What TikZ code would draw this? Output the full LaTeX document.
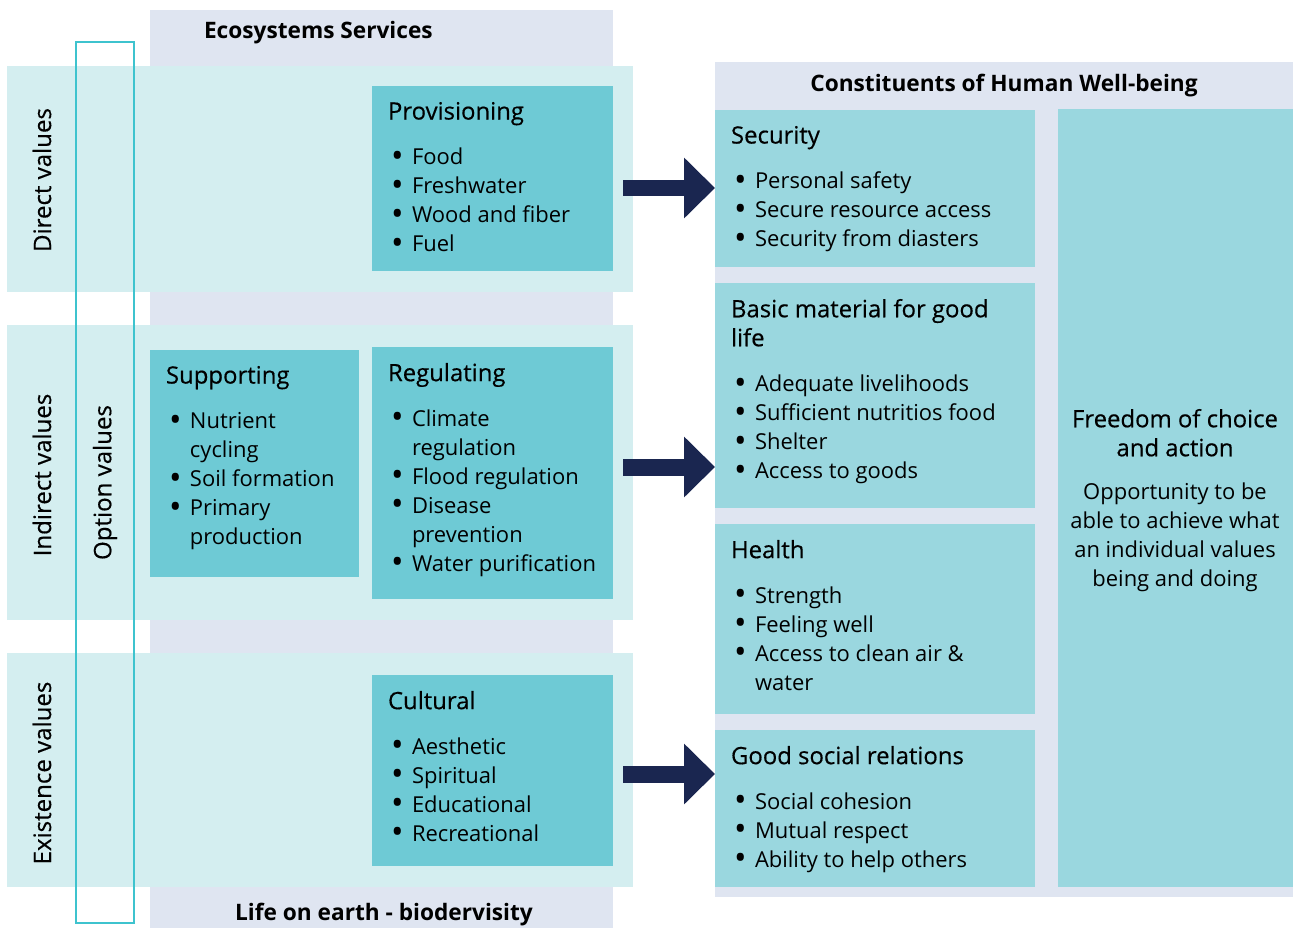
\documentclass[tikz,border=0pt]{standalone}
\usepackage{fontspec}
\setmainfont{Open Sans}
\newfontfamily\semibfont{Open Sans}[FakeBold=0.4]
\usetikzlibrary{fit,arrows.meta,positioning}

\definecolor{colgrey}{HTML}{DFE5F1}
\definecolor{colband}{HTML}{D4EEF0}
\definecolor{colteal}{HTML}{6ECAD5}
\definecolor{colwell}{HTML}{9AD7DF}
\definecolor{colnavy}{HTML}{1A2650}
\definecolor{colopt}{HTML}{3EC3CE}

\newcommand{\bitem}{\hspace*{0.06cm}\makebox[0.42cm][l]{\raisebox{-1.6pt}[0pt][0pt]{\fontsize{19pt}{19pt}\selectfont\textbullet}}}
\newcommand{\bcont}{\hspace*{0.48cm}}
\newcommand{\hd}[1]{{\semibfont\fontsize{13.6pt}{16.5pt}\selectfont #1}}

\begin{document}
\begin{tikzpicture}[x=0.02cm,y=-0.02cm,
  every node/.style={inner sep=0pt,outer sep=0pt},
  colbox/.style={fill=colgrey,fit={#1}},
  band/.style={fill=colband,fit={#1}},
  svcbox/.style={fill=colteal,fit={#1}},
  wellbox/.style={fill=colwell,fit={#1}},
  txt/.style={anchor=north west,align=left,font=\fontsize{12.5pt}{16.5pt}\selectfont},
  hdr/.style={font=\fontsize{12.9pt}{16.5pt}\selectfont\bfseries},
  vlab/.style={rotate=90,font=\semibfont\fontsize{13.7pt}{16.5pt}\selectfont},
  fatarrow/.style={draw=colnavy,line width=0.34cm,-{Triangle[length=0.62cm,width=1.18cm]}}]
\useasboundingbox (0,0) rectangle (1293,929);

% columns
\node[colbox={(150,10) (613,928)}] (escol) {};
\node[colbox={(715,62) (1293,897)}] (hwcol) {};

% value bands
\node[band={(7,66) (633,292)}] (direct) {};
\node[band={(7,325) (633,620)}] (indirect) {};
\node[band={(7,653) (633,887)}] (exist) {};

% ecosystem services
\node[svcbox={(372,86) (613,271)}] (prov) {};
\node[svcbox={(150,350) (359,577)}] (supp) {};
\node[svcbox={(372,347) (613,599)}] (regu) {};
\node[svcbox={(372,675) (613,866)}] (cult) {};

% well-being
\node[wellbox={(715,110) (1035,267)}] (sec) {};
\node[wellbox={(715,283) (1035,508)}] (basic) {};
\node[wellbox={(715,524) (1035,714)}] (health) {};
\node[wellbox={(715,730) (1035,887)}] (social) {};
\node[wellbox={(1058,109) (1293,887)}] (free) {};

% arrows
\coordinate (a1) at (623,188);
\coordinate (a2) at (623,467);
\coordinate (a3) at (623,774);
\draw[fatarrow] (a1) -- (a1 -| sec.west);
\draw[fatarrow] (a2) -- (a2 -| basic.west);
\draw[fatarrow] (a3) -- (a3 -| social.west);

% option values
\node[draw=colopt,line width=1.1pt,fit={(76,42) (134,923)}] (opt) {};
\node[vlab] (optlab) at (opt) {Option values};

% headers
\node[hdr,anchor=west] (eshdr) at (204,33) {Ecosystems Services};
\node[hdr] (hwhdr) at (1004,86) {Constituents of Human Well-being};
\node[hdr] (lifehdr) at (384,915) {Life on earth - biodervisity};

\node[vlab] (dirlab) at (42,180) {Direct values};
\node[vlab] (indlab) at (42,475) {Indirect values};
\node[vlab] (exilab) at (42,773) {Existence values};

% texts
\node[txt] (provtxt) at ([shift={(16,16)}]prov.north west)
  {\hd{Provisioning}\\[0.32cm]\bitem Food\\\bitem Freshwater\\\bitem Wood and fiber\\\bitem Fuel};
\node[txt] (supptxt) at ([shift={(16,16)}]supp.north west)
  {\hd{Supporting}\\[0.32cm]\bitem Nutrient\\\bcont cycling\\\bitem Soil formation\\\bitem Primary\\\bcont production};
\node[txt] (regutxt) at ([shift={(16,16)}]regu.north west)
  {\hd{Regulating}\\[0.32cm]\bitem Climate\\\bcont regulation\\\bitem Flood regulation\\\bitem Disease\\\bcont prevention\\\bitem Water purification};
\node[txt] (culttxt) at ([shift={(16,16)}]cult.north west)
  {\hd{Cultural}\\[0.32cm]\bitem Aesthetic\\\bitem Spiritual\\\bitem Educational\\\bitem Recreational};
\node[txt] (sectxt) at ([shift={(16,16)}]sec.north west)
  {\hd{Security}\\[0.32cm]\bitem Personal safety\\\bitem Secure resource access\\\bitem Security from diasters};
\node[txt] (basictxt) at ([shift={(16,16)}]basic.north west)
  {\hd{Basic material for good}\\\hd{life}\\[0.32cm]\bitem Adequate livelihoods\\\bitem Sufficient nutritios food\\\bitem Shelter\\\bitem Access to goods};
\node[txt] (healthtxt) at ([shift={(16,16)}]health.north west)
  {\hd{Health}\\[0.32cm]\bitem Strength\\\bitem Feeling well\\\bitem Access to clean air \&\\\bcont water};
\node[txt] (socialtxt) at ([shift={(16,16)}]social.north west)
  {\hd{Good social relations}\\[0.32cm]\bitem Social cohesion\\\bitem Mutual respect\\\bitem Ability to help others};
\node[txt,anchor=north,align=center] (freetxt) at (1175,409)
  {\hd{Freedom of choice}\\\hd{and action}\\[0.28cm]Opportunity to be\\able to achieve what\\an individual values\\being and doing};
\end{tikzpicture}
\end{document}
